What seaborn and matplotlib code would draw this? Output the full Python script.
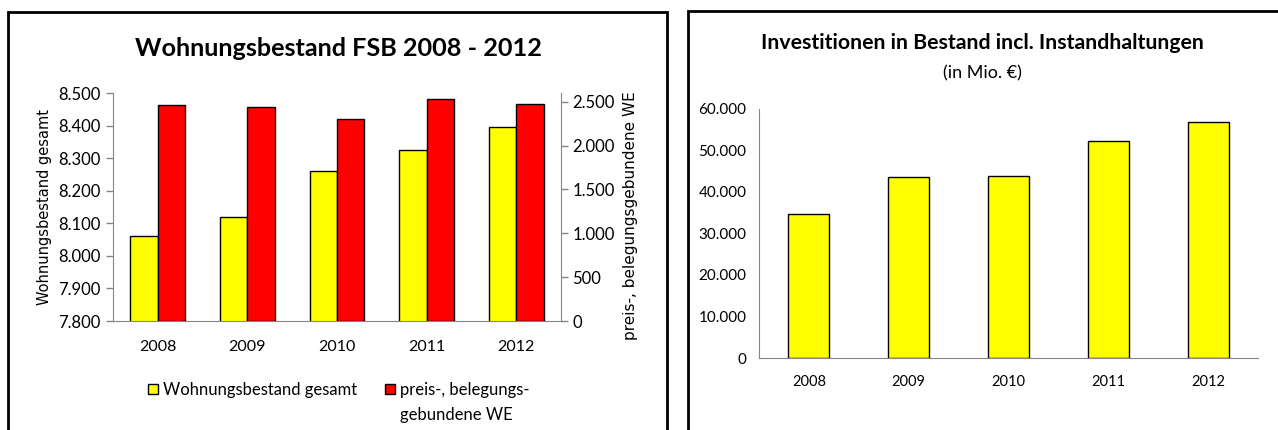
import numpy as np
import pandas as pd
import matplotlib
matplotlib.use("Agg")
import matplotlib.pyplot as plt
import matplotlib.patches as mpatches
from matplotlib.ticker import FuncFormatter
import seaborn as sns

# data
years = ["2008", "2009", "2010", "2011", "2012"]
bestand = [8062, 8118, 8259, 8325, 8397]          # Wohnungsbestand gesamt (left axis)
gebunden = [2468, 2437, 2308, 2536, 2479]         # preis-, belegungsgebundene WE (right axis)
invest = [34700, 43640, 43960, 52330, 56920]      # Investitionen (in Mio. EUR)

lab_bestand = "Wohnungsbestand gesamt"
lab_gebunden = "preis-, belegungs-\ngebundene WE"

YELLOW = "#FFFF00"
RED = "#FF0000"
GRAY = "#868686"

sns.set_style("white")
plt.rcParams["font.family"] = ["Lato", "DejaVu Sans"]
for key in ["text.color", "axes.labelcolor", "xtick.labelcolor", "ytick.labelcolor"]:
    plt.rcParams[key] = "black"

W, H = 1278, 430


def px_axes(fig, x0, y0, x1, y1):
    return fig.add_axes([x0 / W, 1 - y1 / H, (x1 - x0) / W, (y1 - y0) / H])


def thousands(v, pos=None):
    return f"{v:,.0f}".replace(",", ".")


def style_axis(ax, right=False):
    for s in ["top", "right", "left", "bottom"]:
        ax.spines[s].set_visible(False)
    ax.spines["bottom"].set_visible(True)
    ax.spines["bottom"].set_color(GRAY)
    side = "right" if right else "left"
    ax.spines[side].set_visible(True)
    ax.spines[side].set_color(GRAY)
    ax.tick_params(axis="y", which="major", direction="out", length=5, width=1,
                   color=GRAY, pad=4)
    ax.set_xlabel("")
    ax.set_ylabel("")
    ax.grid(False)


def category_ticks(ax, fontsize):
    ax.set_xlim(-0.5, len(years) - 0.5)
    ax.set_xticks(range(len(years)))
    ax.set_xticklabels(years, fontsize=fontsize)
    ax.set_xticks(np.arange(-0.5, len(years), 1), minor=True)
    ax.tick_params(axis="x", which="major", length=0, pad=14)
    ax.tick_params(axis="x", which="minor", direction="out", length=6, width=1,
                   color=GRAY)


fig = plt.figure(figsize=(W / 100, H / 100), dpi=100)

# panel frames
for x0, y0, x1, y1 in [(8, 12, 667, 440), (688, 11, 1290, 440)]:
    fig.patches.append(mpatches.Rectangle((x0 / W, 1 - y1 / H), (x1 - x0) / W, (y1 - y0) / H,
                                          transform=fig.transFigure, fill=False,
                                          edgecolor="black", linewidth=2))

# ---- left chart: housing stock (two axes) ----
df = pd.DataFrame({
    "Jahr": years * 2,
    "Reihe": [lab_bestand] * 5 + [lab_gebunden] * 5,
    "bestand": bestand + [np.nan] * 5,
    "gebunden": [np.nan] * 5 + gebunden,
})
order = [lab_bestand, lab_gebunden]

ax1 = px_axes(fig, 113, 93, 561, 321)
sns.barplot(data=df, x="Jahr", y="bestand", hue="Reihe", hue_order=order,
            palette=[YELLOW, RED], saturation=1, width=0.61, dodge=True,
            edgecolor="black", linewidth=1, legend=False, ax=ax1)
ax1.set_ylim(7800, 8500)
ax1.set_yticks(np.arange(7800, 8501, 100))
ax1.yaxis.set_major_formatter(FuncFormatter(thousands))
style_axis(ax1)
ax1.tick_params(axis="y", labelsize=12)
category_ticks(ax1, 11.5)
ax1.set_ylabel(lab_bestand, fontsize=10.5, family="DejaVu Sans")
ax1.yaxis.set_label_coords(-0.136, 0.5)

ax2 = ax1.twinx()
sns.barplot(data=df, x="Jahr", y="gebunden", hue="Reihe", hue_order=order,
            palette=[YELLOW, RED], saturation=1, width=0.61, dodge=True,
            edgecolor="black", linewidth=1, legend=False, ax=ax2)
ax2.set_ylim(0, 2600)
ax2.set_yticks(np.arange(0, 2501, 500))
ax2.yaxis.set_major_formatter(FuncFormatter(thousands))
style_axis(ax2, right=True)
ax2.spines["bottom"].set_visible(False)
ax2.tick_params(axis="y", labelsize=12, left=False, right=True,
                labelleft=False, labelright=True, pad=3)
ax2.set_ylabel(lab_gebunden.replace("-\n", ""), fontsize=11, family="DejaVu Sans")
ax2.yaxis.set_label_position("right")
ax2.yaxis.set_label_coords(1.138, 0.46)
ax2.set_xlim(-0.5, len(years) - 0.5)

fig.text(338 / W, 1 - 48 / H, "Wohnungsbestand FSB 2008 - 2012", ha="center",
         va="center", fontsize=18.2, fontweight="bold")

# legend: first line of each label inside the legend, wrapped remainder below
first_lines = [lab.split("\n")[0] for lab in order]
handles = [mpatches.Patch(facecolor=c, edgecolor="black", linewidth=1) for c in (YELLOW, RED)]
leg = fig.legend(handles, first_lines, loc="center", bbox_to_anchor=(339 / W, 1 - 390 / H),
                 ncol=2, frameon=False, fontsize=12, handlelength=0.6, handleheight=0.6,
                 handletextpad=0.3, columnspacing=1.7, borderpad=0)
fig.canvas.draw()
ext = leg.get_texts()[1].get_window_extent()
fig.text(ext.x0 / W, 1 - 415 / H, order[1].split("\n")[1], ha="left", va="center",
         fontsize=12)

# ---- right chart: investments ----
ax3 = px_axes(fig, 759, 109, 1258, 358)
sns.barplot(x=years, y=invest, color=YELLOW, width=0.41, edgecolor="black",
            linewidth=1, saturation=1, ax=ax3)
ax3.set_ylim(0, 60000)
ax3.set_yticks(np.arange(0, 60001, 10000))
ax3.yaxis.set_major_formatter(FuncFormatter(thousands))
style_axis(ax3)
ax3.tick_params(axis="y", labelsize=11)
category_ticks(ax3, 10.5)
ax3.tick_params(axis="x", which="major", pad=12)

fig.text(982 / W, 1 - 43 / H, "Investitionen in Bestand incl. Instandhaltungen",
         ha="center", va="center", fontsize=15.3, fontweight="bold")
fig.text(982 / W, 1 - 73 / H, "(in Mio. €)", ha="center", va="center", fontsize=13)

fig.savefig("out.png", dpi=100, facecolor="white")
